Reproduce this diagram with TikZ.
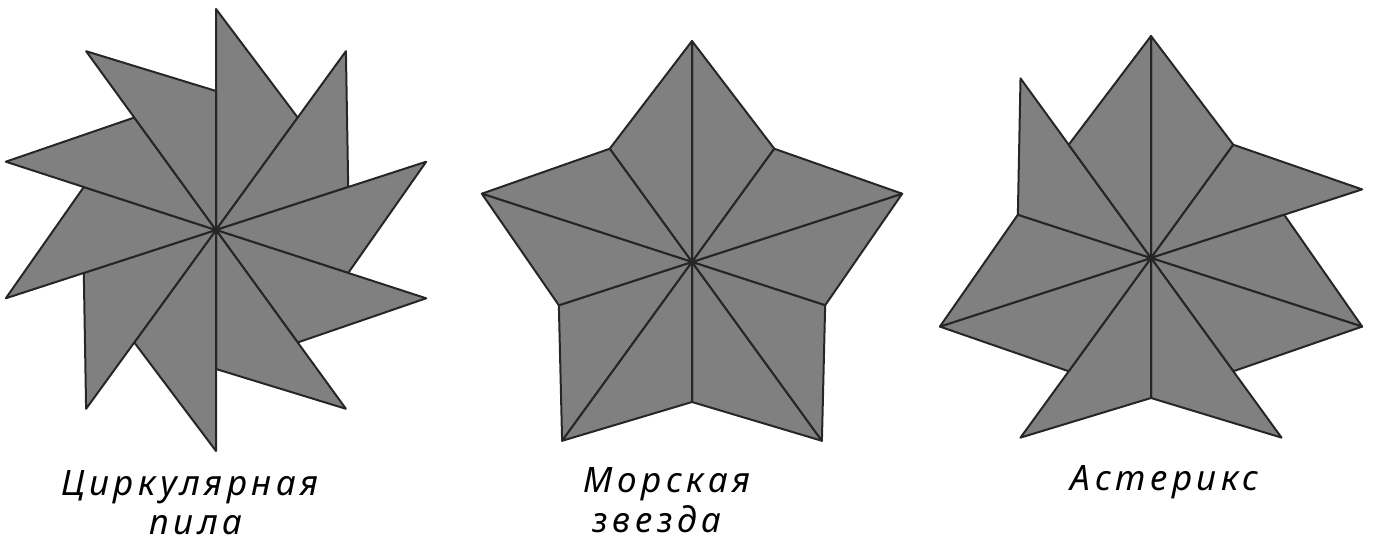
\documentclass[tikz,border=0pt]{standalone}
\usepackage{fontspec}
\setmainfont{Noto Sans}[LetterSpace=13]
\begin{document}
\begin{tikzpicture}[x=1pt,y=1pt,
    piece/.style={fill=black!50, draw=black!85, line width=2pt, line join=round},
    caption/.style={font=\itshape\fontsize{35}{38}\selectfont, anchor=base, inner sep=0pt}]
  \useasboundingbox (0,0) rectangle (1380,544);
  % Circular saw
  \begin{scope}[shift={(216,314)}]
    \foreach \a in {90,54,...,-234}
      \filldraw[piece] (0,0) -- (\a:221) -- ({\a-36}:139) -- cycle;
  \end{scope}
  % Starfish
  \begin{scope}[shift={(692,282)}]
    \foreach \a in {90,18,-54,-126,-198} {
      \filldraw[piece] (0,0) -- (\a:221) -- ({\a-36}:140) -- cycle;
      \filldraw[piece] (0,0) -- (\a:221) -- ({\a+36}:140) -- cycle;
    }
  \end{scope}
  % Asterix
  \begin{scope}[shift={(1151,286)}]
    \foreach \p/\q in {90:222/54:140, 54:140/18:222, 18:140/-18:222,
                       -18:222/-54:140, -54:222/-90:140, -90:140/-126:222,
                       -126:140/-162:222, -162:222/162:140, 162:140/126:222,
                       126:140/90:222}
      \filldraw[piece] (0,0) -- (\p) -- (\q) -- cycle;
  \end{scope}
  % Labels
  \node[caption] (sawlabel) at (190,49) {Циркулярная};
  \node[caption] (sawlabel2) at (196,10) {пила};
  \node[caption] (starlabel) at (667,52) {Морская};
  \node[caption] (starlabel2) at (657,12) {звезда};
  \node[caption] (asterlabel) at (1165,54) {Астерикс};
\end{tikzpicture}
\end{document}
